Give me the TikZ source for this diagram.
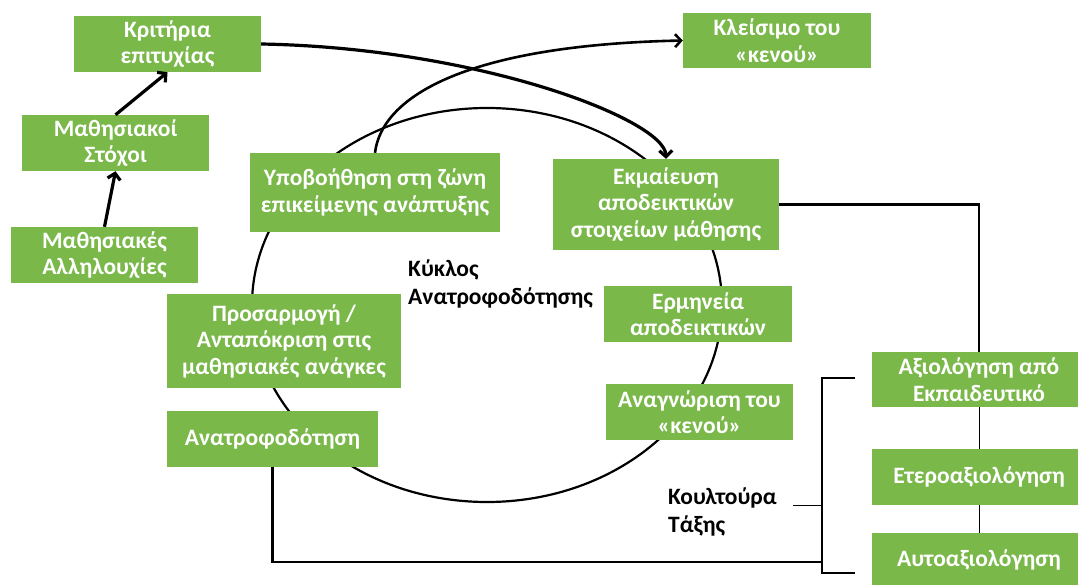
\documentclass[tikz,border=0pt]{standalone}
\usepackage{fontspec}
\setmainfont{Carlito}
\usetikzlibrary{arrows.meta}
\definecolor{boxgreen}{RGB}{122,184,74}
\tikzset{
  gbox/.style={fill=boxgreen, draw=none, text=white, align=center, inner sep=2pt,
    font=\bfseries\fontsize{23.5}{26.5}\selectfont},
  lbl/.style={align=left, inner sep=0pt, font=\bfseries\fontsize{23.5}{27.5}\selectfont},
  thickarrow/.style={line width=3.2pt, -{Straight Barb[length=6pt,width=13pt]}},
  midarrow/.style={line width=2.6pt, -{Straight Barb[length=6pt,width=13pt]}},
  conn/.style={line width=2.4pt},
  thinconn/.style={line width=1pt},
  cyc/.style={line width=2.2pt}
}
\begin{document}
\begin{tikzpicture}[x=1pt,y=-1pt]
\useasboundingbox (0,0) rectangle (1078,585);
% feedback cycle
\draw[cyc] (487,305) ellipse [x radius=235pt, y radius=197pt];
% boxes
\node[gbox, minimum width=187pt, minimum height=56pt] (krit) at (167.5,44) {Κριτήρια\\επιτυχίας};
\node[gbox, minimum width=187pt, minimum height=56pt] (stoxoi) at (115.5,143) {Μαθησιακοί\\Στόχοι};
\node[gbox, minimum width=187pt, minimum height=56pt] (allil) at (104.5,255) {Μαθησιακές\\Αλληλουχίες};
\node[gbox, minimum width=250pt, minimum height=79pt] (hypo) at (375,192.5) {Υποβοήθηση στη ζώνη\\επικείμενης ανάπτυξης};
\node[gbox, minimum width=188pt, minimum height=55pt] (klei) at (777,40.5) {Κλείσιμο του\\«κενού»};
\node[gbox, minimum width=226pt, minimum height=91pt] (ekm) at (666,204.5) {Εκμαίευση\\αποδεικτικών\\στοιχείων μάθησης};
\node[gbox, minimum width=234pt, minimum height=94pt] (pros) at (284,341) {Προσαρμογή /\\Ανταπόκριση στις\\μαθησιακές ανάγκες};
\node[gbox, minimum width=211pt, minimum height=56pt] (anatr) at (272.5,439) {Ανατροφοδότηση};
\node[gbox, minimum width=188pt, minimum height=56pt] (erm) at (698,314) {Ερμηνεία\\αποδεικτικών};
\node[gbox, minimum width=187pt, minimum height=56pt] (anag) at (699.5,412) {Αναγνώριση του\\«κενού»};
\node[gbox, minimum width=214pt, minimum height=55pt] (axiol) at (979,379.5) {Αξιολόγηση από\\Εκπαιδευτικό};
\node[gbox, minimum width=214pt, minimum height=56pt] (etero) at (979,477) {Ετεροαξιολόγηση};
\node[gbox, minimum width=214pt, minimum height=54pt] (auto) at (979,560) {Αυτοαξιολόγηση};
% labels
\node[lbl, anchor=west] (kyklos) at (408,284) {Κύκλος\\Ανατροφοδότησης};
\node[lbl, anchor=west] (koul) at (668,512) {Κουλτούρα\\Τάξης};
% arrows on the left
\draw[thickarrow] (allil.north) -- (stoxoi.south);
\draw[thickarrow] (stoxoi.north) -- (krit.south);
% curved arrows
\draw[thickarrow] (krit.east) .. controls (480,48) and (665,120) .. (ekm.north);
\draw[midarrow] (hypo.north) .. controls (382,95) and (470,45) .. (klei.west);
% connectors to the assessment boxes
\draw[conn] (ekm.east) -- (ekm.east -| axiol.north) -- (axiol.north);
\draw[thinconn] (axiol.south) -- (etero.north);
\draw[thinconn] (etero.south) -- (auto.north);
% bracket
\coordinate (bt) at (855,378);
\coordinate (bb) at (855,573);
\coordinate (bl) at (822,562);
\coordinate (bm) at (822,505);
\coordinate (ke) at (793,505);
\draw[conn] (bt) -- (822,378) -- (822,573) -- (bb);
\draw[conn] (anatr.south) -- (anatr.south |- bl) -- (bl);
\draw[thinconn] (ke) -- (bm);
\end{tikzpicture}
\end{document}
